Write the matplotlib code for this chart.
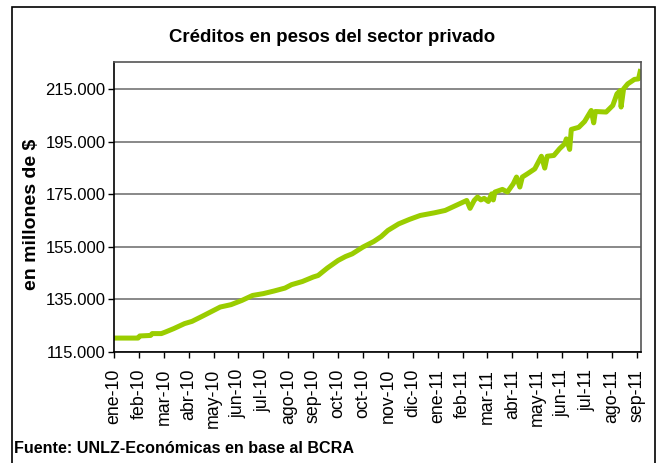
import matplotlib

matplotlib.use("Agg")
import matplotlib.pyplot as plt
import matplotlib.dates as mdates
import pandas as pd
from matplotlib.patches import Rectangle
from matplotlib.ticker import FuncFormatter

# values (millones de $)
dates = [
    "2010-01-04", "2010-02-02", "2010-02-04", "2010-02-17", "2010-02-19", "2010-03-02",
    "2010-03-07", "2010-03-17", "2010-03-30", "2010-04-08", "2010-04-21", "2010-05-04",
    "2010-05-12", "2010-05-25", "2010-06-07", "2010-06-20", "2010-07-03", "2010-07-16",
    "2010-07-29", "2010-08-06", "2010-08-19", "2010-09-01", "2010-09-07", "2010-09-18",
    "2010-10-01", "2010-10-10", "2010-10-18", "2010-10-31", "2010-11-13", "2010-11-22",
    "2010-11-30", "2010-12-13", "2010-12-26", "2011-01-08", "2011-01-25", "2011-02-07",
    "2011-02-20", "2011-03-05", "2011-03-09", "2011-03-14", "2011-03-18", "2011-03-22",
    "2011-03-26", "2011-03-31", "2011-04-04", "2011-04-06", "2011-04-08", "2011-04-17",
    "2011-04-23", "2011-04-30", "2011-05-04", "2011-05-08", "2011-05-11", "2011-05-17",
    "2011-05-26", "2011-06-03", "2011-06-07", "2011-06-10", "2011-06-18", "2011-06-25",
    "2011-07-01", "2011-07-03", "2011-07-07", "2011-07-09", "2011-07-18", "2011-07-25",
    "2011-08-02", "2011-08-05", "2011-08-07", "2011-08-20", "2011-08-28", "2011-09-02",
    "2011-09-06", "2011-09-07", "2011-09-10", "2011-09-15", "2011-09-23", "2011-09-28",
    "2011-09-30",
]
creditos = [
    120300, 120300, 121100, 121300, 122000, 122000,
    122600, 123900, 125800, 126650, 128700, 130800,
    132100, 133000, 134600, 136500, 137200, 138200,
    139300, 140600, 141800, 143500, 144100, 146900,
    149800, 151300, 152300, 154900, 157000, 158900,
    161200, 163700, 165400, 166900, 167900, 168800,
    170700, 172600, 169600, 172600, 173900, 172800,
    173400, 172200, 175100, 172800, 175800, 176800,
    175800, 178900, 181500, 177700, 181500, 182700,
    184600, 189400, 184900, 189400, 189700, 192300,
    194100, 196000, 192000, 199600, 200400, 202600,
    206800, 202100, 206400, 206200, 208700, 213100,
    214400, 208100, 215000, 216900, 218600, 218800,
    221600,
]

tick_labels = [
    "ene-10", "feb-10", "mar-10", "abr-10", "may-10", "jun-10", "jul-10", "ago-10",
    "sep-10", "oct-10", "oct-10", "nov-10", "dic-10", "ene-11", "feb-11", "mar-11",
    "abr-11", "may-11", "jun-11", "jul-11", "ago-11", "sep-11",
]
y_ticks = [115000, 135000, 155000, 175000, 195000, 215000]

x = pd.to_datetime(dates)
start = pd.Timestamp("2010-01-04")
tick_pos = [start + pd.Timedelta(days=30 * i) for i in range(len(tick_labels))]

plt.rcParams["font.family"] = ["Liberation Sans", "DejaVu Sans"]

fig = plt.figure(figsize=(6.59, 4.63), dpi=100)
ax = fig.add_axes([0.173, 0.2397, 0.7997, 0.6263])

ax.plot(x, creditos, color="#9ACD00", linewidth=3.6, solid_joinstyle="round")

ax.set_xlim(start, pd.Timestamp("2011-10-01"))
ax.set_ylim(115000, 225200)
ax.set_yticks(y_ticks)
ax.yaxis.set_major_formatter(FuncFormatter(lambda v, _: f"{int(v):,}".replace(",", ".")))
ax.set_xticks(mdates.date2num(tick_pos))
ax.set_xticklabels(tick_labels, rotation=90)
ax.tick_params(axis="y", direction="out", length=4, width=1, labelsize=12, pad=2)
ax.tick_params(axis="x", direction="out", length=4, width=1, labelsize=12.8, pad=8)
ax.grid(axis="y", color="#7f7f7f", linewidth=1.3)
ax.set_axisbelow(True)
for side in ["top", "right"]:
    ax.spines[side].set_color("#555555")
for side in ["left", "bottom"]:
    ax.spines[side].set_color("black")
for s in ax.spines.values():
    s.set_linewidth(1.2)

fig.text(0.504, 0.918, "Créditos en pesos del sector privado", ha="center", va="center",
         fontsize=13.4, fontweight="bold")
fig.text(0.048, 0.538, "en millones de $", rotation=90, ha="center", va="center",
         fontsize=14, fontweight="bold")
fig.text(0.021, 0.032, "Fuente: UNLZ-Económicas en base al BCRA", ha="left", va="center",
         fontsize=11.6, fontweight="bold")

fig.patches.append(Rectangle((0.0178, -0.02), 0.976, 1.005, transform=fig.transFigure,
                             fill=False, edgecolor="black", linewidth=1.2))

fig.savefig("out.png", dpi=100)
